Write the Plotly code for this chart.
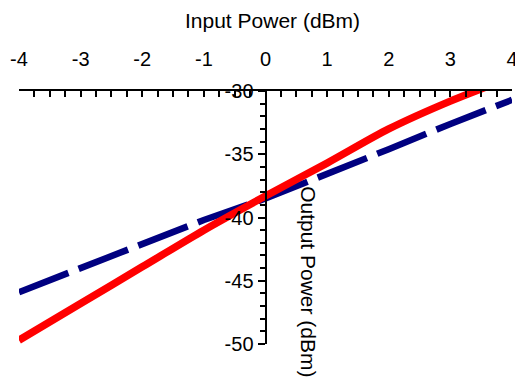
import plotly.graph_objects as go

input_power = [-4, -3, -2, -1, 0, 1, 2, 3, 4]
red_output = [-49.7, -46.8, -43.9, -41.0, -38.3, -35.7, -33.0, -30.8, -28.9]
blue_output = [-45.9, -44.0, -42.1, -40.2, -38.5, -36.6, -34.6, -32.6, -30.7]

x_tick_vals = [-4, -3, -2, -1, 0, 1, 2, 3, 4]
x_tick_text = ["-4", "-3", "-2", "-1", "0", "1", "2", "3", "4"]
y_tick_vals = [-50, -45, -40, -35, -30]
y_tick_text = ["-50", "-45", "-40", "-35", "-30"]

x_title = "Input Power (dBm)"
y_title = "Output Power (dBm)"

FONT = "Liberation Sans, Arial, sans-serif"
FS = 20
FT = 21

fig = go.Figure()
fig.add_trace(go.Scatter(x=input_power, y=blue_output, mode="lines",
                         line=dict(color="#000080", width=6.5, dash="53px,11px"),
                         showlegend=False))
fig.add_trace(go.Scatter(x=input_power, y=red_output, mode="lines",
                         line=dict(color="#ff0000", width=7.5,
                                   shape="spline", smoothing=0.8),
                         showlegend=False))

fig.update_layout(
    width=515, height=379,
    margin=dict(l=19, r=3, t=91, b=35),
    paper_bgcolor="white", plot_bgcolor="white",
    font=dict(family=FONT, size=FS, color="black"),
    xaxis=dict(
        range=[-4, 4], side="top", anchor="y", automargin=False,
        showgrid=False, zeroline=False,
        showline=True, linecolor="black", linewidth=2,
        ticks="inside", ticklen=6, tickwidth=2, tickcolor="black",
        tickmode="array", tickvals=x_tick_vals, ticktext=x_tick_text,
        ticklabelstandoff=15, ticklabeloverflow="allow",
        minor=dict(dtick=0.25, tick0=0, ticks="inside", ticklen=6, tickwidth=2,
                   tickcolor="black"),
        tickfont=dict(family=FONT, size=FS),
    ),
    yaxis=dict(
        range=[-50, -30], anchor="free", position=0.5, automargin=False,
        showgrid=False, zeroline=False,
        showline=True, linecolor="black", linewidth=2,
        ticks="outside", ticklen=7, tickwidth=2, tickcolor="black",
        tickmode="array", tickvals=y_tick_vals, ticktext=y_tick_text,
        ticklabeloverflow="allow",
        minor=dict(dtick=1, tick0=0, ticks="outside", ticklen=5, tickwidth=2,
                   tickcolor="black"),
        tickfont=dict(family=FONT, size=FS),
    ),
    annotations=[
        dict(text=x_title, xref="paper", yref="paper", x=0.515, y=1.28,
             xanchor="center", yanchor="middle", showarrow=False,
             font=dict(family=FONT, size=FT)),
        dict(text=y_title, xref="paper", yref="paper", x=0.588, y=0.245,
             xanchor="center", yanchor="middle", showarrow=False, textangle=90,
             font=dict(family=FONT, size=FT)),
    ],
)

fig.write_html("out.html", config={"displayModeBar": False},
               post_script="document.body.style.margin='0';document.body.style.overflow='hidden';")
